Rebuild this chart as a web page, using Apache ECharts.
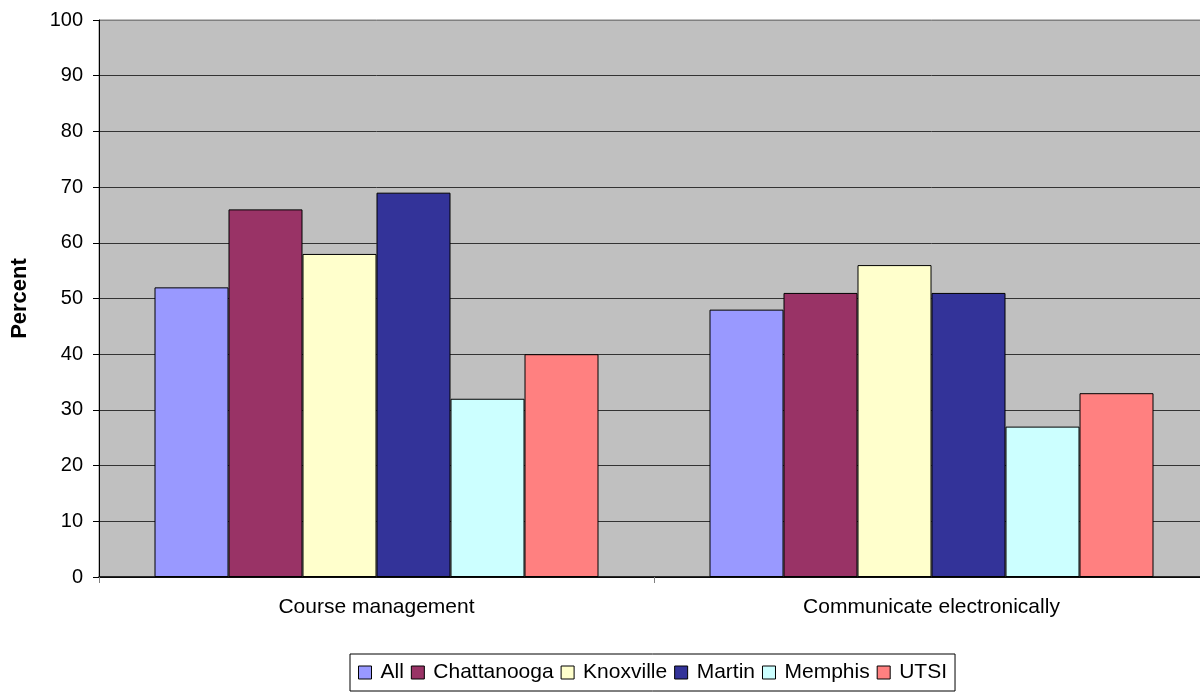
<!DOCTYPE html>
<html>
<head>
<meta charset="utf-8">
<script src="https://cdn.jsdelivr.net/npm/echarts@6/dist/echarts.min.js"></script>
<style>
  html, body { margin: 0; padding: 0; background: #ffffff; overflow: hidden; }
  #chart { width: 1210px; height: 694px; }
</style>
</head>
<body>
<div id="chart"></div>
<script>
// Survey results: share of respondents (percent) by campus
const categories = ['Course management', 'Communicate electronically'];
const seriesNames = ['All', 'Chattanooga', 'Knoxville', 'Martin', 'Memphis', 'UTSI'];
const seriesColors = ['#9999FF', '#993366', '#FFFFCC', '#333399', '#CCFFFF', '#FF8080'];
const allValues = [52, 48];
const chattanoogaValues = [66, 51];
const knoxvilleValues = [58, 56];
const martinValues = [69, 51];
const memphisValues = [32, 27];
const utsiValues = [40, 33];
const yAxisName = 'Percent';

const seriesValues = [allValues, chattanoogaValues, knoxvilleValues, martinValues, memphisValues, utsiValues];
const FONT = '"Liberation Sans", Arial, Helvetica, sans-serif';

// Gridlines are dark; the one at the top edge of the plot is a lighter grey frame line
const gridLineColors = ['#333', '#333', '#333', '#333', '#333', '#333', '#333', '#333', '#333', '#333', '#808080'];

// The plot area runs a little past the right edge of the visible page
const chart = echarts.init(document.getElementById('chart'), null, { renderer: 'canvas' });

chart.setOption({
  animation: false,
  textStyle: { fontFamily: FONT, color: '#000' },
  grid: {
    left: 99, top: 20, right: 1, bottom: 117,
    outerBoundsMode: 'none',
    containLabel: false,
    show: true,
    backgroundColor: '#C0C0C0',
    borderColor: '#808080',
    borderWidth: 1
  },
  legend: {
    data: seriesNames,
    left: 350,
    top: 654,
    orient: 'horizontal',
    itemWidth: 13,
    itemHeight: 13,
    itemGap: 7,
    padding: [8, 8, 8, 8],
    borderColor: '#000',
    borderWidth: 1,
    icon: 'rect',
    itemStyle: { borderColor: '#000', borderWidth: 1 },
    textStyle: { fontFamily: FONT, fontSize: 21, color: '#000', padding: [0, 0, 0, 4] }
  },
  xAxis: {
    type: 'category',
    data: categories,
    axisLine: { lineStyle: { color: '#000', width: 1.5 } },
    axisTick: { show: true, alignWithLabel: false, length: 6, lineStyle: { color: '#808080' } },
    axisLabel: { fontFamily: FONT, fontSize: 21, color: '#000', margin: 20 },
    splitLine: { show: false }
  },
  yAxis: {
    type: 'value',
    min: 0,
    max: 100,
    interval: 10,
    name: yAxisName,
    nameLocation: 'middle',
    nameGap: 68,
    nameRotate: 90,
    nameTextStyle: { fontFamily: FONT, fontSize: 22, fontWeight: 'bold', color: '#000' },
    axisLine: { show: true, lineStyle: { color: '#000', width: 1 } },
    axisTick: { show: true, inside: false, length: 6, lineStyle: { color: '#000' } },
    axisLabel: { fontFamily: FONT, fontSize: 20, color: '#000', margin: 16 },
    splitLine: { show: true, lineStyle: { color: gridLineColors, width: 1 } }
  },
  series: seriesNames.map((name, i) => ({
    name: name,
    type: 'bar',
    data: seriesValues[i],
    barGap: '0%',
    barCategoryGap: '20%',
    itemStyle: { color: seriesColors[i], borderColor: '#000', borderWidth: 1 }
  }))
});
</script>
</body>
</html>
